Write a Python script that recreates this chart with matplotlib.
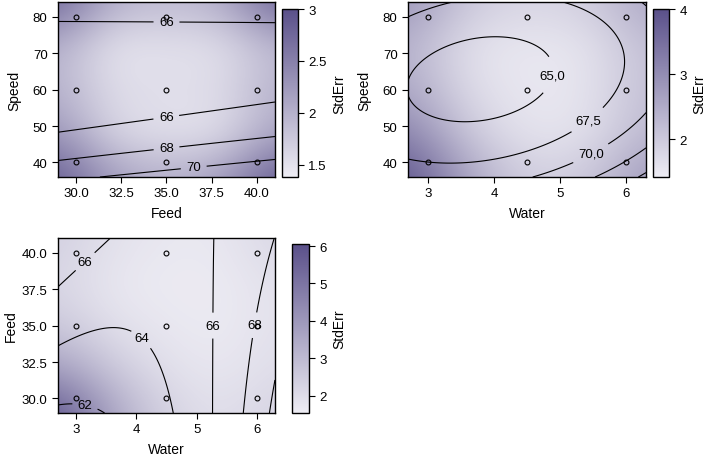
import numpy as np
import matplotlib
matplotlib.use("Agg")
import matplotlib.pyplot as plt
from matplotlib.colors import LinearSegmentedColormap

plt.rcParams['font.family'] = ['Liberation Sans', 'DejaVu Sans']
plt.rcParams['font.size'] = 9.5

# ---------------- data ----------------
feed_levels = [30.0, 35.0, 40.0]
speed_levels = [40.0, 60.0, 80.0]
water_levels = [3.0, 4.5, 6.0]

# fitted quadratic response models in coded units
# order: [b0, b_x, b_y, b_xx, b_yy, b_xy]
coef_feed_speed = [65.05, 0.44, -1.485, 0.0, 2.7, -0.448]
coef_water_speed = [64.62, 1.692, -1.168, 1.657, 2.651, -0.872]
coef_water_feed = [64.59, 1.90, 0.727, 1.65, 0.0, -1.448]

levels_feed_speed = [66, 68, 70]
levels_water_speed = [65.0, 67.5, 70.0, 72.5, 75.0]
levels_water_feed = [62, 64, 66, 68, 70]
labeled_feed_speed = [66, 68, 70]
labeled_water_speed = [65.0, 67.5, 70.0]
labeled_water_feed = [62, 64, 66, 68]

# StdErr read on a 5x5 grid (rows: y low->high, cols: x low->high)
se_grid_x_feed = [29, 32, 35, 38, 41]
se_grid_x_water = [2.7, 3.6, 4.5, 5.4, 6.3]
se_grid_y_speed = [36, 48, 60, 72, 84]
se_grid_y_feed = [29, 32, 35, 38, 41]

stderr_feed_speed = [
    [2.9, 2.2, 2.0, 2.2, 2.9],
    [2.3, 1.6, 1.5, 1.5, 2.1],
    [2.0, 1.55, 1.55, 1.55, 2.0],
    [2.0, 1.45, 1.5, 1.5, 1.9],
    [2.8, 2.0, 1.9, 2.0, 2.8],
]
stderr_water_speed = [
    [4.0, 2.6, 1.9, 2.0, 2.8],
    [3.2, 2.0, 1.55, 1.6, 2.3],
    [2.6, 1.7, 1.5, 1.55, 2.2],
    [2.4, 1.6, 1.5, 1.55, 2.2],
    [2.9, 2.0, 1.8, 1.9, 2.6],
]
stderr_water_feed = [
    [6.0, 3.6, 2.3, 1.9, 2.3],
    [3.8, 2.6, 1.9, 1.7, 2.0],
    [2.6, 1.9, 1.7, 1.6, 1.9],
    [2.2, 1.7, 1.6, 1.6, 1.9],
    [2.4, 1.9, 1.7, 1.7, 2.2],
]

cbar_ticks_1 = [1.5, 2, 2.5, 3]
cbar_labels_1 = ["1.5", "2", "2.5", "3"]
cbar_ticks_2 = [2, 3, 4]
cbar_labels_2 = ["2", "3", "4"]
cbar_ticks_3 = [2, 3, 4, 5, 6]
cbar_labels_3 = ["2", "3", "4", "5", "6"]

feed_ticks = [30.0, 32.5, 35.0, 37.5, 40.0]
feed_ticklabels = ["30.0", "32.5", "35.0", "37.5", "40.0"]
speed_ticks = [40, 50, 60, 70, 80]
speed_ticklabels = ["40", "50", "60", "70", "80"]
water_ticks = [3, 4, 5, 6]
water_ticklabels = ["3", "4", "5", "6"]

# ---------------- drawing ----------------
cmap = LinearSegmentedColormap.from_list("se", ["#EEEDF4", "#5A508A"])

fig = plt.figure(figsize=(7.09, 4.60), dpi=100)


def coded(vals, levels):
    lv = np.asarray(levels)
    c = (lv[0] + lv[-1]) / 2.0
    h = (lv[-1] - lv[0]) / 2.0
    return (np.asarray(vals) - c) / h


def quad(coef, a, b):
    b0, bx, by, bxx, byy, bxy = coef
    return b0 + bx * a + by * b + bxx * a * a + byy * b * b + bxy * a * b


def panel(ax_rect, cb_rect, xlev, ylev, xlim, ylim, coef, levels, lab_levels, fmt,
          gx, gy, se, vmin, vmax, cticks, clabels, xt, xtl, yt, ytl,
          xlabel, ylabel, manual, ypad):
    ax = fig.add_axes(ax_rect)
    cax = fig.add_axes(cb_rect)
    dx = gx[1] - gx[0]
    dy = gy[1] - gy[0]
    im = ax.imshow(np.array(se), origin='lower', aspect='auto',
                   extent=[gx[0] - dx / 2, gx[-1] + dx / 2, gy[0] - dy / 2, gy[-1] + dy / 2],
                   cmap=cmap, vmin=vmin, vmax=vmax, interpolation='bicubic')
    xs = np.linspace(xlim[0], xlim[1], 300)
    ys = np.linspace(ylim[0], ylim[1], 300)
    X, Y = np.meshgrid(xs, ys)
    Z = quad(coef, coded(X, xlev), coded(Y, ylev))
    cs = ax.contour(X, Y, Z, levels=levels, colors='black', linewidths=0.8)
    texts = ax.clabel(cs, levels=lab_levels, inline=True, inline_spacing=3,
                      fontsize=9.5, fmt=fmt, manual=manual)
    for t in texts:
        t.set_rotation(0)
    PX, PY = np.meshgrid(xlev, ylev)
    ax.plot(PX.ravel(), PY.ravel(), 'o', ms=3.5, mfc='none', mec='black', mew=0.8)
    ax.set_xlim(xlim)
    ax.set_ylim(ylim)
    ax.set_xticks(xt)
    ax.set_xticklabels(xtl)
    ax.set_yticks(yt)
    ax.set_yticklabels(ytl)
    ax.set_xlabel(xlabel, fontsize=10, labelpad=5)
    ax.set_ylabel(ylabel, fontsize=10, labelpad=ypad)
    ax.tick_params(direction='out', length=4, width=0.8)
    for s in ax.spines.values():
        s.set_linewidth(1.0)
    cb = fig.colorbar(im, cax=cax)
    cb.set_ticks(cticks)
    cb.set_ticklabels(clabels)
    cb.ax.tick_params(direction='out', length=4, width=0.8)
    cb.outline.set_linewidth(1.0)
    cb.set_label('StdErr', fontsize=10)
    return ax


fmt_int = lambda v: f"{v:.0f}"
fmt_comma = lambda v: f"{v:.1f}".replace('.', ',')

panel([0.0818, 0.613, 0.306, 0.380], [0.3977, 0.613, 0.0226, 0.365],
      feed_levels, speed_levels, (29, 41), (36, 84), coef_feed_speed,
      levels_feed_speed, labeled_feed_speed, fmt_int,
      se_grid_x_feed, se_grid_y_speed, stderr_feed_speed, 1.38, 3.0,
      cbar_ticks_1, cbar_labels_1, feed_ticks, feed_ticklabels,
      speed_ticks, speed_ticklabels, 'Feed', 'Speed',
      [(35, 78), (35, 52), (35, 44), (36.5, 39)], 8)

panel([0.5755, 0.613, 0.3357, 0.380], [0.921, 0.613, 0.0226, 0.365],
      water_levels, speed_levels, (2.7, 6.3), (36, 84), coef_water_speed,
      levels_water_speed, labeled_water_speed, fmt_comma,
      se_grid_x_water, se_grid_y_speed, stderr_water_speed, 1.42, 4.0,
      cbar_ticks_2, cbar_labels_2, water_ticks, water_ticklabels,
      speed_ticks, speed_ticklabels, 'Water', 'Speed',
      [(4.85, 64), (5.4, 52), (5.45, 43)], 8)

panel([0.0818, 0.100, 0.306, 0.380], [0.4118, 0.100, 0.024, 0.367],
      water_levels, feed_levels, (2.7, 6.3), (29, 41), coef_water_feed,
      levels_water_feed, labeled_water_feed, fmt_int,
      se_grid_x_water, se_grid_y_feed, stderr_water_feed, 1.54, 6.05,
      cbar_ticks_3, cbar_labels_3, water_ticks, water_ticklabels,
      feed_ticks, feed_ticklabels, 'Water', 'Feed',
      [(3.15, 39.4), (4.2, 34.6), (5.28, 35), (6.0, 35), (3.15, 29.5)], 3)

fig.savefig('out.png', dpi=100)
